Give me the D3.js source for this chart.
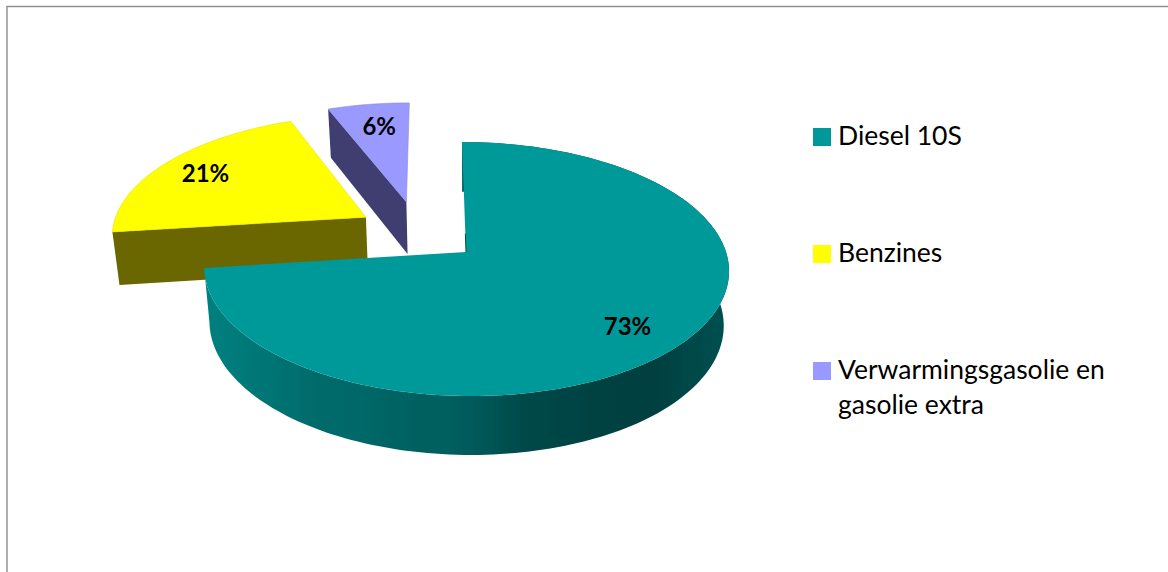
<!DOCTYPE html>
<html>
<head>
<meta charset="utf-8">
<title>Pie</title>
<script src="https://cdn.jsdelivr.net/npm/d3@7"></script>
<style>
    html, body { margin: 0; padding: 0; background: #fff; overflow: hidden; }
    svg { display: block; }
    text { font-family: Lato, "Open Sans", sans-serif; fill: #000; }
</style>
</head>
<body>
<script>
var categories = ["Diesel 10S", "Benzines", "Verwarmingsgasolie en gasolie extra"];
var values = [73, 21, 6];

function init(){

    var w = 1168;
    var h = 572;

    var topColors = ["#009999", "#ffff00", "#9999ff"];
    var sideColors = ["url(#wall)", "#6b6600", "#3f3d70"];

    // how far each slice is pulled out, in units of the pie radius
    var explode = [[0, 0], [-0.395, -0.29], [-0.235, -0.424]];
    // small px corrections for the percent labels
    var labelNudge = [[-9, 4], [0, 1], [4, 4]];

    var svg = d3.select("body").append("svg")
                .attr("width", w)
                .attr("height", h);

    var defs = svg.append("defs");
    defs.append("filter").attr("id", "soft")
        .append("feGaussianBlur").attr("stdDeviation", 0.45);

    var wall = defs.append("linearGradient")
                .attr("id", "wall")
                .attr("gradientUnits", "userSpaceOnUse")
                .attr("x1", 206).attr("x2", 729)
                .attr("y1", 0).attr("y2", 0);
    var wallStops = [[0, "#008080"], [0.2, "#006c6c"], [0.5, "#005c5c"],
                     [0.62, "#004747"], [0.85, "#003f3f"], [1, "#005050"]];
    wall.selectAll("stop").data(wallStops).enter().append("stop")
        .attr("offset", function(d){ return d[0]; })
        .attr("stop-color", function(d){ return d[1]; });

    // frame, only top and left end up inside the window
    svg.append("rect")
        .attr("x", 7).attr("y", 6.5)
        .attr("width", w + 20).attr("height", h + 20)
        .attr("fill", "none")
        .attr("stroke", "#8c8c8c")
        .attr("stroke-width", 1.4);

    var pie = d3.pie().sort(null);
    var arcs = pie(values);

    // flat pie plane -> screen, with some perspective
    var cx = 466, cy = 252, R = 260, tilt = 124.7, persp = 0.134, shear = 0.036;
    function project(u, v){
        var s = 1 / (1 - persp * v);
        var y = cy + tilt * v * s;
        return [cx + R * u * s + shear * (y - cy), y];
    }
    // top face point -> matching point on the bottom of the slab
    function drop(p){
        return [465 + (p[0] - 465) * 0.98, p[1] + 53 + 0.036 * (p[1] - 231)];
    }
    function polar(a, r, off){
        return project(r * Math.sin(a) + off[0], -r * Math.cos(a) + off[1]);
    }
    function rim(d, off){
        var n = Math.ceil((d.endAngle - d.startAngle) * 40);
        return d3.range(n + 1).map(function(i){
            return polar(d.startAngle + (d.endAngle - d.startAngle) * i / n, 1, off);
        });
    }

    var line = d3.line().curve(d3.curveLinear);
    var marks = svg.append("g").attr("filter", "url(#soft)");

    // back to front: small slice, yellow one, big one
    d3.range(arcs.length).reverse().forEach(function(i){
        var d = arcs[i];
        var off = explode[i];
        var outer = rim(d, off);
        var apex = polar(0, 0, off);

        if (i === 0){
            // curved wall of the big slice
            marks.append("path")
                .attr("d", line(outer.concat(outer.map(drop).reverse())) + "Z")
                .attr("fill", sideColors[i]);
        } else {
            // cut face that looks to the viewer
            var edge = outer[0];
            marks.append("path")
                .attr("d", line([edge, apex, drop(apex), drop(edge)]) + "Z")
                .attr("fill", sideColors[i]);
        }

        marks.append("path")
            .attr("d", line(outer.concat([apex])) + "Z")
            .attr("fill", topColors[i])
            .attr("stroke", i === 0 ? "none" : d3.color(topColors[i]).darker(0.3))
            .attr("stroke-width", 0.6);

        if (i === 0){
            // dark sliver along the vertical cut
            marks.append("path")
                .attr("d", line([polar(0, 0.15, off), apex]))
                .attr("stroke", "#004f4f")
                .attr("stroke-width", 1)
                .attr("fill", "none");
        }
    });

    // percent labels
    svg.selectAll("text.pct")
        .data(arcs)
        .enter()
        .append("text")
        .attr("class", "pct")
        .attr("text-anchor", "middle")
        .attr("dy", "0.35em")
        .attr("font-size", "24px")
        .attr("font-weight", "bold")
        .attr("transform", function(d, i){
            var p = polar((d.startAngle + d.endAngle) / 2, 0.8, explode[i]);
            return "translate(" + (p[0] + labelNudge[i][0]) + "," + (p[1] + labelNudge[i][1]) + ")";
        })
        .text(function(d){ return d.value + "%"; });

    // legend
    var legendY = d3.scalePoint()
                    .domain(categories)
                    .range([137, 371]);

    var legend = svg.selectAll("g.entry")
                    .data(categories)
                    .enter()
                    .append("g")
                    .attr("class", "entry")
                    .attr("transform", function(d){ return "translate(813," + legendY(d) + ")"; });

    legend.append("rect")
        .attr("y", -9)
        .attr("width", 18)
        .attr("height", 18)
        .attr("fill", function(d, i){ return topColors[i]; });

    legend.append("text")
        .attr("x", 25)
        .attr("y", 8)
        .attr("font-size", "26.5px")
        .each(function(d){
            // wrap the long name, 290px is what fits
            var el = d3.select(this);
            var words = d.split(" ");
            var cur = [];
            var tspan = el.append("tspan").attr("x", 25);
            words.forEach(function(word){
                cur.push(word);
                tspan.text(cur.join(" "));
                if (tspan.node().getComputedTextLength() > 290 && cur.length > 1){
                    cur.pop();
                    tspan.text(cur.join(" "));
                    cur = [word];
                    tspan = el.append("tspan").attr("x", 25).attr("dy", 35).text(word);
                }
            });
        });
}
window.onload = init;
</script>
</body>
</html>
